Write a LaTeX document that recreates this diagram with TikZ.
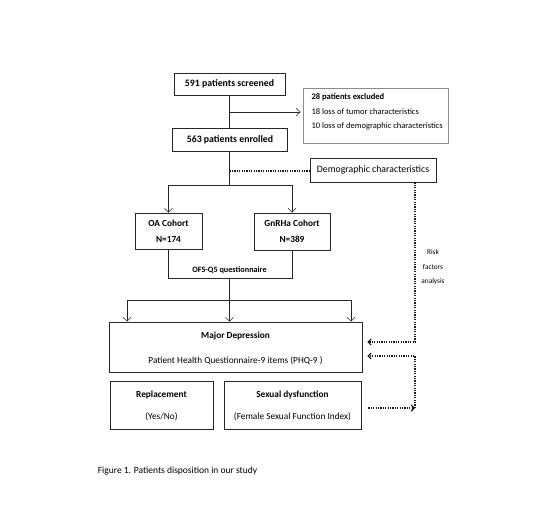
\documentclass[tikz,border=0pt]{standalone}
\usepackage{fontspec}
\setmainfont{Carlito}
\usetikzlibrary{arrows.meta}
\tikzset{
  box/.style={draw=black!85, line width=0.7pt, inner sep=0pt, align=center},
  conn/.style={draw=black!85, line width=0.7pt},
  arr/.style={conn, -{Straight Barb[length=4pt,width=8pt,line width=0.6pt]}},
  dots/.style={draw=black!90, line width=1.4pt, dash pattern=on 1.3pt off 1.1pt},
  dotarr/.style={dots, -{Straight Barb[length=3pt,width=6pt,line width=1.1pt]}},
  fbig/.style={font=\fontsize{9.8}{11}\selectfont},
  fmid/.style={font=\fontsize{9.3}{11}\selectfont},
  fsm/.style={font=\fontsize{8.5}{10}\selectfont},
}
\begin{document}
\begin{tikzpicture}[x=1pt,y=-1pt]
\useasboundingbox (0,0) rectangle (550,523);
% boxes
\node[box, fbig, minimum width=111pt, minimum height=22pt] (scr) at (229.5,84) {\textbf{591 patients screened}};
\node[box, draw=black!45, minimum width=145pt, minimum height=55pt] (exc) at (375.5,115.5) {};
\node[fsm, anchor=west] (exc1) at (308,97) {\textbf{28 patients excluded}};
\node[fsm, anchor=west] (exc2) at (308,112) {18 loss of tumor characteristics};
\node[fsm, anchor=west] (exc3) at (308,126.5) {10 loss of demographic characteristics};
\node[box, fbig, minimum width=115pt, minimum height=23pt] (enr) at (230,139.5) {\textbf{563 patients enrolled}};
\node[box, fbig, minimum width=126pt, minimum height=24pt] (demo) at (373,170) {Demographic characteristics};
\node[box, minimum width=67pt, minimum height=36pt] (oa) at (168.5,231) {};
\node[fmid] (oat) at (168.5,223) {\textbf{OA Cohort}};
\node[fmid] (oan) at (168.5,239.5) {\textbf{N=174}};
\node[box, minimum width=76pt, minimum height=37pt] (gn) at (292,231.5) {};
\node[fmid] (gnt) at (292,223) {\textbf{GnRHa Cohort}};
\node[fmid] (gnn) at (292,239.5) {\textbf{N=389}};
\node[box, minimum width=253pt, minimum height=50pt] (md) at (235.5,347) {};
\node[fmid] (mdt) at (235.5,336) {\textbf{Major Depression}};
\node[fmid] (mds) at (235.5,360.5) {Patient Health Questionnaire-9 items (PHQ-9 )};
\node[box, minimum width=103pt, minimum height=48pt] (rep) at (161.5,405) {};
\node[fmid] (rept) at (161.5,395) {\textbf{Replacement}};
\node[fmid] (reps) at (161.5,417) {(Yes/No)};
\node[box, minimum width=137pt, minimum height=48pt] (sex) at (292.5,405) {};
\node[fmid] (sext) at (292.5,395) {\textbf{Sexual dysfunction}};
\node[fmid] (sexs) at (292.5,417) {(Female Sexual Function Index)};
\node[font=\fontsize{7.3}{14.5}\selectfont, align=center] (risk) at (433,267.5) {Risk\\factors\\analysis};
\node[font=\fontsize{9.5}{11}\selectfont] (cap) at (177.5,471) {Figure 1. Patients disposition in our study};
% coordinates
\coordinate (b1) at (229.5,112);
\coordinate (d1) at (229.5,171);
\coordinate (s1) at (229.5,185);
\coordinate (m1) at (229.5,278);
\coordinate (h1) at (229.5,300);
\coordinate (hl) at (127,300);
\coordinate (hr) at (351,300);
\coordinate (r1) at (415,342);
\coordinate (r2) at (415,356);
\coordinate (r3) at (415,408);
% connectors
\draw[conn] (scr.south) -- (scr.south |- enr.north);
\draw[arr, shorten >=2pt] (b1) -- (b1 -| exc.west);
\draw[conn] (enr.south -| s1) -- (s1);
\draw[dots] (d1) -- (d1 -| demo.west);
\draw[conn] (s1 -| oa.north) -- (s1 -| gn.north);
\draw[arr] (s1 -| oa.north) -- (oa.north);
\draw[arr] (s1 -| gn.north) -- (gn.north);
\draw[conn] (oa.south) -- (m1 -| oa.south) -- (m1 -| gn.south) -- (gn.south);
\node[font=\fontsize{8.2}{10}\selectfont, anchor=south] (ofs) at (229.5,277.5) {\textbf{OFS-Q5 questionnaire}};
\draw[arr] (m1) -- (m1 |- md.north);
\draw[conn] (hl) -- (hr);
\draw[arr] (hl) -- (hl |- md.north);
\draw[arr] (hr) -- (hr |- md.north);
\draw[dotarr, shorten >=5pt] (demo.south -| r1) -- (r1) -- (r1 -| md.east);
\draw[dotarr, shorten >=5pt] (r3) -- (r2) -- (r2 -| md.east);
\draw[dotarr, shorten <=7pt] (r3 -| sex.east) -- (r3);
\end{tikzpicture}
\end{document}
